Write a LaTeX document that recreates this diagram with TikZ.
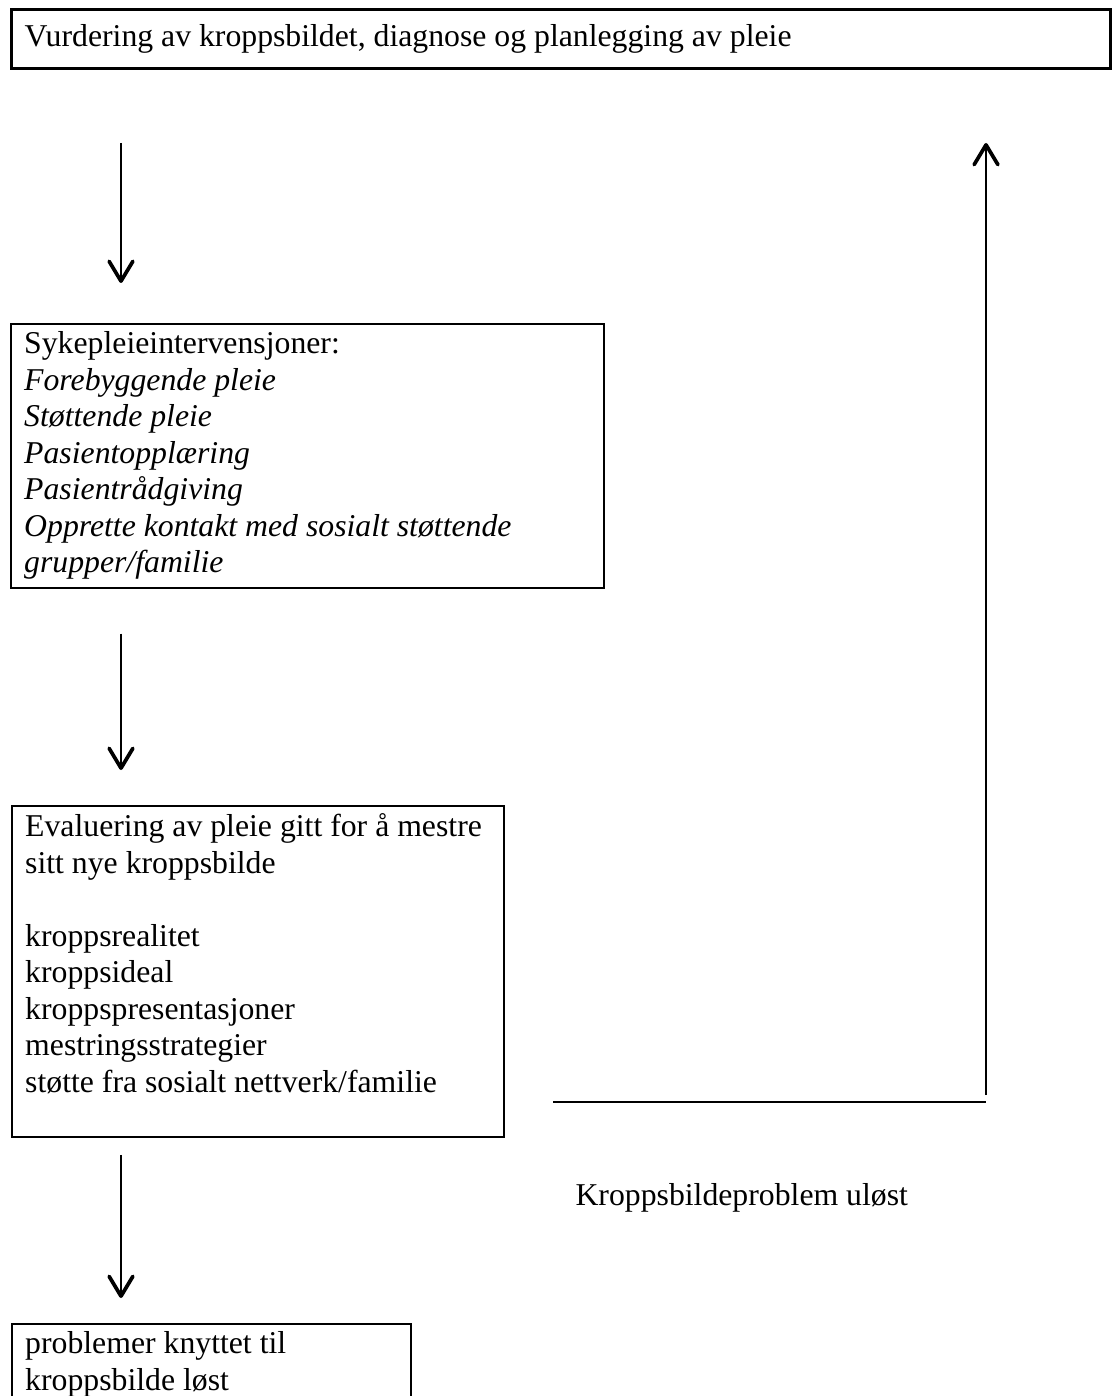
\documentclass[tikz,border=0pt]{standalone}
\usepackage{fontspec}
\setmainfont{Liberation Serif}
\usetikzlibrary{arrows.meta,calc}
\tikzset{
  box/.style     = {draw, rectangle, anchor=north west, align=flush left,
                    line width=0.75pt, inner xsep=5pt, inner ysep=3pt,
                    font=\fontsize{12}{13.8}\selectfont},
  headbox/.style = {box, line width=1.1pt, minimum height=22.3pt},
  wire/.style    = {-{Straight Barb[length=7.5pt,width=9pt,line width=1.4pt,round]},
                    line width=0.8pt},
  plain/.style   = {line width=0.8pt},
  lbl/.style     = {font=\fontsize{12}{13.8}\selectfont, inner sep=0pt, anchor=base west}
}

\begin{document}
\begin{tikzpicture}[x=0.378pt, y=0.378pt]
\useasboundingbox (0,0) rectangle (1114,-1396);

% ---------- boxes ----------
\node[headbox, text width=405.4pt] (vurd) at (10,-8)
      {Vurdering av kroppsbildet, diagnose og planlegging av pleie};

\node[box, text width=214.2pt] (interv) at (10,-323)
      {Sykepleieintervensjoner:\\
       \textit{Forebyggende pleie}\\
       \textit{Støttende pleie}\\
       \textit{Pasientopplæring}\\
       \textit{Pasientrådgiving}\\
       \textit{Opprette kontakt med sosialt støttende}\\
       \textit{grupper/familie}};

\node[box, text width=176pt] (eval) at (11,-805)
      {\mbox{Evaluering av pleie gitt for å mestre}\\
       sitt nye kroppsbilde\\[13.8pt]
       kroppsrealitet\\
       kroppsideal\\
       kroppspresentasjoner\\
       mestringsstrategier\\
       støtte fra sosialt nettverk/familie\\
       \mbox{}};

\node[box, text width=140.8pt] (solved) at (11,-1323)
      {problemer knyttet til\\
       kroppsbilde løst};

% ---------- downward arrows ----------
\draw[wire] ($(vurd.south west)+(111,-73)$) -- ($(interv.north west)+(111,40)$);
\draw[wire] ($(interv.south west)+(111,-45)$) -- ($(eval.north west)+(110,35)$);
\draw[wire] ($(eval.south west)+(110,-17)$) -- ($(solved.north west)+(110,25)$);

% ---------- return path (problem not solved) ----------
\coordinate (ret0) at (553,-1102);
\coordinate (ret1) at (986,-1102);
\coordinate (ret2) at (986,-1095);
\coordinate (ret3) at (986,-143);
\draw[plain] (ret0) -- (ret1);
\draw[wire] (ret2) -- (ret3);

\node[lbl] (unsolved) at (575,-1205) {Kroppsbildeproblem uløst};

\end{tikzpicture}
\end{document}
